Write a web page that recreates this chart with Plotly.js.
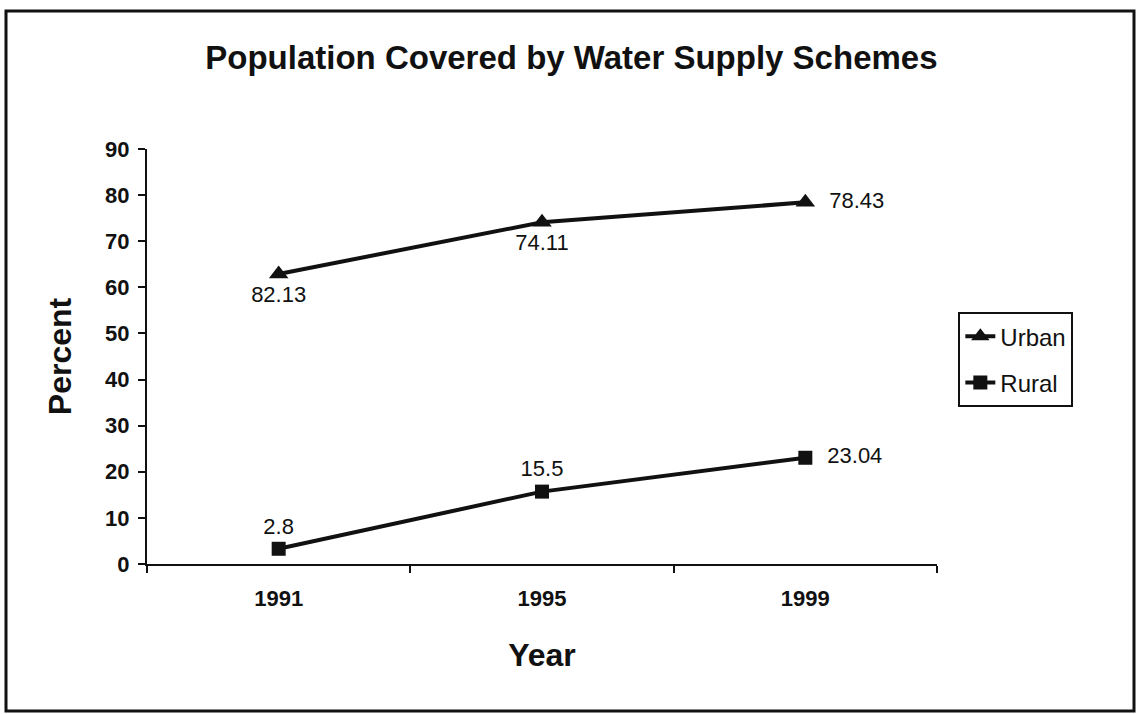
<!DOCTYPE html>
<html>
<head>
<meta charset="utf-8">
<script src="https://cdn.plot.ly/plotly-3.0.1.min.js"></script>
<style>
html,body{margin:0;padding:0;background:#fff;}
#chart{width:1136px;height:714px;}
</style>
</head>
<body>
<div id="chart"></div>
<script>
const years = ["1991", "1995", "1999"];
const urbanValues = [62.9, 74.11, 78.43];
const urbanLabels = ["82.13", "74.11", "78.43"];
const ruralValues = [3.3, 15.7, 23.04];
const ruralLabels = ["2.8", "15.5", "23.04"];
const yTicks = [0, 10, 20, 30, 40, 50, 60, 70, 80, 90];

const labelFont = {family: "Liberation Sans, Arial, sans-serif", size: 22, color: "#111"};

const traces = [
  {
    x: years, y: urbanValues, name: "Urban", legendgroup: "u", type: "scatter", mode: "lines+markers+text",
    text: urbanLabels,
    texttemplate: ["%{text}", "%{text}", "&nbsp;&nbsp;%{text}"],
    textposition: ["bottom center", "bottom center", "middle right"],
    textfont: labelFont,
    line: {color: "#111", width: 4},
    marker: {symbol: "triangle-up", size: 17, color: "#111"},
    cliponaxis: false
  },
  {
    x: years, y: ruralValues, name: "Rural", legendgroup: "r", type: "scatter", mode: "lines+markers+text",
    text: ruralLabels,
    texttemplate: ["%{text}", "%{text}", "&nbsp;&nbsp;%{text}"],
    textposition: ["top center", "top center", "middle right"],
    textfont: labelFont,
    line: {color: "#111", width: 4},
    marker: {symbol: "square", size: 14, color: "#111"},
    cliponaxis: false
  }
];

const layout = {
  width: 1136, height: 714,
  margin: {l: 147, r: 199, t: 149, b: 150},
  paper_bgcolor: "#fff", plot_bgcolor: "#fff",
  font: {family: "Liberation Sans, Arial, sans-serif", color: "#111"},
  title: {
    text: "<b>Population Covered by Water Supply Schemes</b>",
    font: {size: 33, color: "#111"},
    x: 0.503, xanchor: "center", y: 0.92, yanchor: "middle"
  },
  xaxis: {
    type: "category",
    range: [-0.5, 2.5],
    tickson: "boundaries",
    ticks: "outside", ticklen: 7, tickwidth: 2, tickcolor: "#111",
    showline: true, linecolor: "#111", linewidth: 2,
    showgrid: false, zeroline: false,
    ticklabelstandoff: 14,
    tickfont: {size: 22, color: "#111", weight: "bold"},
    title: {text: "<b>Year</b>", font: {size: 32, color: "#111"}, standoff: 33}
  },
  yaxis: {
    range: [0, 90],
    tickvals: yTicks,
    ticks: "outside", ticklen: 7, tickwidth: 2, tickcolor: "#111",
    showline: true, linecolor: "#111", linewidth: 2,
    showgrid: false, zeroline: false,
    ticklabelstandoff: 4,
    tickfont: {size: 22, color: "#111", weight: "bold"},
    title: {text: "<b>Percent</b>", font: {size: 32, color: "#111"}, standoff: 24}
  },
  showlegend: true,
  legend: {
    x: 1.027, xanchor: "left", y: 0.607, yanchor: "top",
    bordercolor: "#111", borderwidth: 2, bgcolor: "#fff",
    font: {size: 24, color: "#111"},
    tracegroupgap: 12, itemwidth: 30
  },
  shapes: [
    {type: "rect", xref: "paper", yref: "paper",
     x0: (6 - 147) / 790, x1: (1134 - 147) / 790,
     y0: (564 - 711) / 415, y1: (564 - 11) / 415,
     line: {color: "#111", width: 3}, fillcolor: "rgba(0,0,0,0)"}
  ]
};

Plotly.newPlot("chart", traces, layout, {displayModeBar: false, staticPlot: true});
</script>
</body>
</html>
